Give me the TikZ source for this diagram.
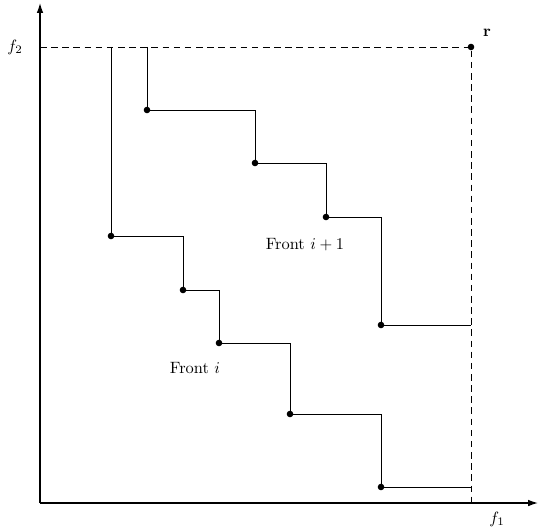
\documentclass[tikz,border=0pt]{standalone}
\usetikzlibrary{arrows.meta}
\begin{document}
\begin{tikzpicture}[x=0.61pt,y=-0.61pt,
  axis/.style={line width=0.75pt,-{Latex[length=6pt,width=4pt]}},
  stepline/.style={line width=0.45pt},
  guide/.style={line width=0.45pt,dash pattern=on 4pt off 2.8pt},
  pt/.style={circle,fill=black,inner sep=0pt,minimum size=4pt}]
\useasboundingbox (0,0) rectangle (538,529);
% axes
\coordinate (O) at (40,503);
\coordinate (xend) at (538,503);
\coordinate (yend) at (40,3);
\draw[axis] (O) -- (xend);
\draw[axis] (O) -- (yend);
\node (f1) at (497,519) {$f_1$};
\node (f2) at (15,47) {$f_2$};
% reference point and its bounds
\node[pt] (r) at (471,47) {};
\node (rl) at (487,33) {$\mathbf{r}$};
\coordinate (ry) at (40,47);
\coordinate (rx) at (471,503);
\draw[guide] (ry) -- (r.center) -- (rx);
% Front i
\coordinate (a0) at (111,47);
\node[pt] (a1) at (111,236) {};
\node[pt] (a2) at (183,290) {};
\node[pt] (a3) at (219,343) {};
\node[pt] (a4) at (290,414) {};
\node[pt] (a5) at (381,487) {};
\coordinate (a6) at (471,487);
\draw[stepline] (a0) |- (a1.center) -| (a2.center) -| (a3.center) -| (a4.center) -| (a5.center) -- (a6);
% Front i+1
\coordinate (b0) at (147,47);
\node[pt] (b1) at (147,110) {};
\node[pt] (b2) at (255,163) {};
\node[pt] (b3) at (326,217) {};
\node[pt] (b4) at (381,325) {};
\coordinate (b5) at (471,325);
\draw[stepline] (b0) -- (b1.center) -| (b2.center) -| (b3.center) -| (b4.center) -- (b5);
% labels
\node (fi) at (195,368) {Front $i$};
\node (fj) at (305,245) {Front $i+1$};
\end{tikzpicture}
\end{document}
